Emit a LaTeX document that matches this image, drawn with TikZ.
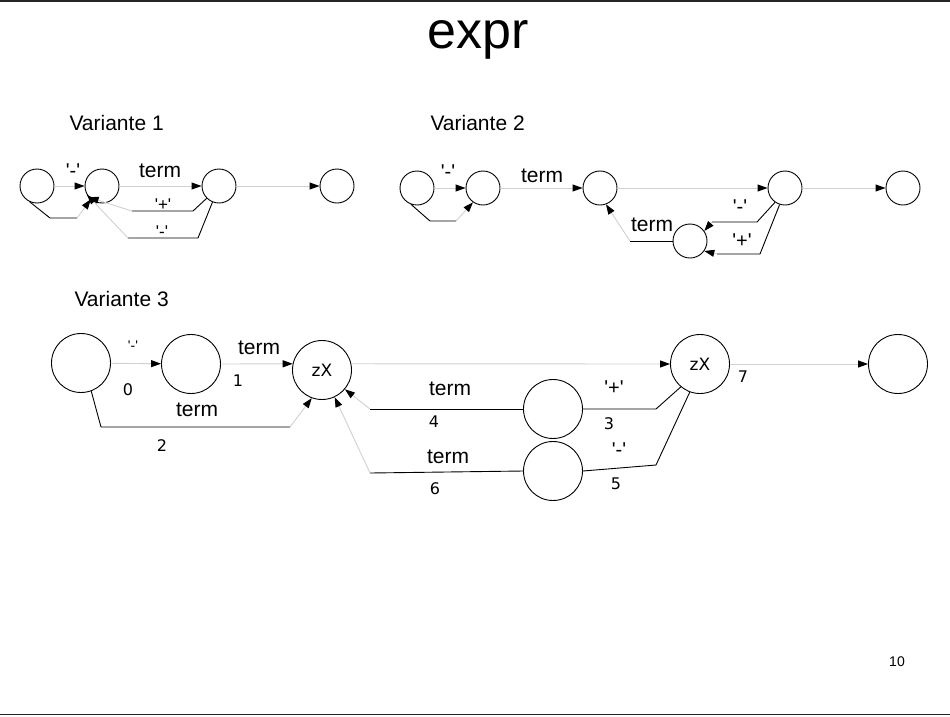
\documentclass[tikz,border=0pt]{standalone}
\usepackage{fontspec}
\setmainfont{Liberation Sans}
\newfontfamily\djv{DejaVu Sans}
\usetikzlibrary{arrows.meta}
\newcommand{\sq}{\textquotesingle}
\begin{document}
\begin{tikzpicture}[x=1pt,y=-1pt,
  st/.style={circle,draw,line width=0.9pt,inner sep=0pt,minimum size=34pt},
  bst/.style={circle,draw,line width=0.9pt,inner sep=0pt,minimum size=59pt,font=\djv\fontsize{17}{17}\selectfont},
  blk/.style={draw=black,line width=0.9pt},
  gry/.style={draw=black!18,line width=0.9pt,-{Triangle[length=10pt,width=7pt,color=black]}},
  ttl/.style={font=\fontsize{52}{52}\selectfont},
  var/.style={font=\fontsize{21}{21}\selectfont,anchor=west},
  lbl/.style={font=\fontsize{21}{21}\selectfont},
  ql/.style={font=\fontsize{20}{20}\selectfont},
  qs/.style={font=\fontsize{17}{17}\selectfont},
  num/.style={font=\djv\fontsize{16}{16}\selectfont},
  pg/.style={font=\fontsize{14}{14}\selectfont}]
\useasboundingbox (0,0) rectangle (950,716);
\fill[white] (0,0) rectangle (950,716);
\draw[line width=1.6pt,black!85] (0,0.8) -- (950,0.8);
\draw[line width=1.6pt,black!85] (0,714.5) -- (950,714.5);

\node[ttl] (title) at (478,40) {expr};
\node[pg] (page) at (897,662) {10};

% ---------- Variante 1 ----------
\node[var] (v1) at (66,123) {Variante 1};
\node[st] (a1) at (37,186) {};
\node[st] (a2) at (102,186) {};
\node[st] (a3) at (219,186) {};
\node[st] (a4) at (337,186) {};
\draw[gry] (a1) -- (a2);
\coordinate (a1b) at (50,218);
\coordinate (a1c) at (77,218);
\draw[blk] (a1.-115) -- (a1b) -- (a1c);
\draw[gry] (a1c) -- (a2.-130);
\draw[gry] (a2) -- (a3);
\coordinate (a3p) at (193,211);
\coordinate (a3q) at (132,211);
\draw[blk] (a3.-135) -- (a3p) -- (a3q);
\draw[gry] (a3q) -- (a2.-140);
\coordinate (a3m) at (198,238);
\coordinate (a3n) at (128,238);
\draw[blk] (a3.-112) -- (a3m) -- (a3n);
\draw[gry] (a3n) -- (a2.-150);
\draw[gry] (a3) -- (a4);
\node[ql] (l1a) at (73,171) {\sq-\sq};
\node[lbl] (l1b) at (160,171) {term};
\node[qs] (l1c) at (163,205) {\sq+\sq};
\node[qs] (l1d) at (162,232) {\sq-\sq};

% ---------- Variante 2 ----------
\node[var] (v2) at (427,123) {Variante 2};
\node[st] (b1) at (417,188) {};
\node[st] (b2) at (483,188) {};
\node[st] (b3) at (600,188) {};
\node[st] (b4) at (785,188) {};
\node[st] (b5) at (903,188) {};
\node[st] (b6) at (690,241) {};
\draw[gry] (b1) -- (b2);
\coordinate (b1b) at (430,221);
\coordinate (b1c) at (456,221);
\draw[blk] (b1.-110) -- (b1b) -- (b1c);
\draw[gry] (b1c) -- (b2.-125);
\draw[gry] (b2) -- (b3);
\draw[gry] (b3) -- (b4);
\draw[gry] (b4) -- (b5);
\coordinate (b4m) at (757,222);
\coordinate (b4n) at (712,222);
\draw[blk] (b4.-125) -- (b4m) -- (b4n);
\draw[gry] (b4n) -- (b6.35);
\coordinate (b4p) at (760,254);
\coordinate (b4q) at (717,254);
\draw[blk] (b4.-108) -- (b4p) -- (b4q);
\draw[gry] (b4q) -- (b6.-35);
\coordinate (b6t) at (630,241);
\draw[blk] (b6.west) -- (b6t);
\draw[gry] (b6t) -- (b3.-70);
\node[ql] (l2a) at (448,172) {\sq-\sq};
\node[lbl] (l2b) at (542,176) {term};
\node[lbl] (l2c) at (652,225) {term};
\node[ql] (l2d) at (740,207) {\sq-\sq};
\node[ql] (l2e) at (742,241) {\sq+\sq};

% ---------- Variante 3 ----------
\node[var] (v3) at (71,299) {Variante 3};
\node[bst] (c1) at (81,363) {};
\node[bst] (c2) at (191,364) {};
\node[bst] (z1) at (322,370) {zX};
\node[bst] (z2) at (700,364) {zX};
\node[bst] (c9) at (898,364) {};
\node[bst] (q1) at (553,409) {};
\node[bst] (q2) at (553,471) {};
\draw[gry] (c1) -- (c2);
\draw[gry] (c2.east) -- (z1.168);
\coordinate (c1b) at (101,427);
\coordinate (c1c) at (290,427);
\draw[blk] (c1.-70) -- (c1b) -- (c1c);
\draw[gry] (c1c) -- (z1.-110);
\draw[gry] (z1.12) -- (z2.west);
\draw[gry] (z2) -- (c9);
\coordinate (z2p) at (656,409);
\draw[blk] (z2.-130) -- (z2p) -- (q1.east);
\coordinate (q1t) at (370,409);
\draw[blk] (q1.west) -- (q1t);
\draw[gry] (q1t) -- (z1.-40);
\coordinate (z2m) at (656,465);
\draw[blk] (z2.-110) -- (z2m) -- (q2.east);
\coordinate (q2t) at (370,473);
\draw[blk] (q2.west) -- (q2t);
\draw[gry] (q2t) -- (z1.-65);
\node[font=\fontsize{14}{14}\selectfont] (l3a) at (133,346) {\sq-\sq};
\node[num] (n0) at (128,390) {0};
\node[lbl] (l3b) at (259,348) {term};
\node[num] (n1) at (238,381) {1};
\node[lbl] (l3c) at (197,410) {term};
\node[num] (n2) at (162,446) {2};
\node[lbl] (l3d) at (450,389) {term};
\node[num] (n4) at (434,422) {4};
\node[lbl] (l3e) at (448,457) {term};
\node[num] (n6) at (435,489) {6};
\node[ql] (l3f) at (614,388) {\sq+\sq};
\node[num] (n3) at (609,424) {3};
\node[ql] (l3g) at (619,450) {\sq-\sq};
\node[num] (n5) at (616,484) {5};
\node[num] (n7) at (743,377) {7};
\end{tikzpicture}
\end{document}
